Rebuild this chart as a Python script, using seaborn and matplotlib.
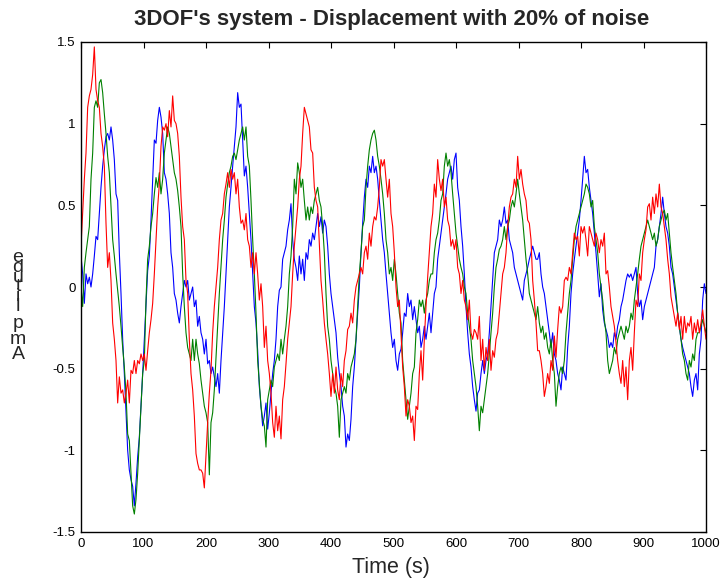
import numpy as np
import pandas as pd
import seaborn as sns
import matplotlib.pyplot as plt

# displacement of each DOF (one value every 8/3 s)
red_vals = [
    0.25, 0.45, 0.66, 0.82, 1.10, 1.17, 1.21, 1.30, 1.47, 1.21,
    1.14, 1.10, 0.94, 0.86, 0.74, 0.39, 0.12, 0.21, 0.04, -0.22,
    -0.32, -0.45, -0.71, -0.55, -0.65, -0.63, -0.71, -0.65, -0.57, -0.71,
    -0.51, -0.53, -0.45, -0.53, -0.45, -0.47, -0.41, -0.45, -0.41, -0.51,
    -0.39, -0.28, -0.20, -0.10, 0.08, 0.29, 0.49, 0.63, 0.86, 0.98,
    0.96, 1.00, 0.92, 1.08, 0.98, 1.17, 1.02, 1.00, 0.94, 0.80,
    0.55, 0.37, 0.29, 0.04, -0.04, -0.32, -0.53, -0.63, -0.79, -1.02,
    -1.08, -1.12, -1.12, -1.14, -1.23, -1.03, -0.83, -0.65, -0.51, -0.28,
    -0.12, 0.00, 0.12, 0.29, 0.41, 0.45, 0.57, 0.63, 0.70, 0.61,
    0.72, 0.66, 0.70, 0.57, 0.66, 0.49,
    0.39, 0.41, 0.35, 0.45, 0.29, 0.25, 0.12, 0.21, 0.08, 0.21,
    0.08, -0.08, 0.02, -0.12, -0.37, -0.24, -0.45, -0.53, -0.65, -0.83,
    -0.92, -0.73, -0.88, -0.79, -0.93, -0.69, -0.61, -0.47, -0.32, -0.22,
    -0.12, 0.08, 0.25, 0.37, 0.49, 0.66, 0.74, 0.94, 1.10, 1.06,
    1.02, 0.98, 0.84, 0.82, 0.61, 0.53, 0.49, 0.27, 0.04, -0.08,
    -0.22, -0.32, -0.41, -0.53, -0.67, -0.53, -0.65, -0.49, -0.63, -0.69,
    -0.53, -0.61, -0.45, -0.39, -0.26, -0.24, -0.16, -0.22, -0.08, 0.00,
    0.04, 0.08, 0.12, 0.08, 0.21, 0.25, 0.17, 0.33, 0.25, 0.37,
    0.43, 0.41, 0.49, 0.61, 0.78, 0.74, 0.78, 0.66, 0.55, 0.66,
    0.45, 0.37, 0.21, 0.00, -0.12, -0.08,
    -0.28, -0.49, -0.61, -0.79, -0.69, -0.73, -0.83, -0.79, -0.94, -0.73,
    -0.75, -0.53, -0.39, -0.57, -0.32, -0.12, 0.06, 0.21, 0.37, 0.45,
    0.63, 0.55, 0.78, 0.66, 0.59, 0.66, 0.49, 0.55, 0.41, 0.37,
    0.25, 0.29, 0.23, 0.29, 0.12, 0.08, -0.04, 0.04, -0.08, -0.12,
    -0.20, -0.08, -0.28, -0.32, -0.26, -0.28, -0.32, -0.18, -0.45, -0.32,
    -0.51, -0.37, -0.45, -0.32, -0.51, -0.39, -0.43, -0.32, -0.28, -0.16,
    -0.04, 0.08, 0.12, 0.21, 0.37, 0.49, 0.55, 0.57, 0.66, 0.61,
    0.80, 0.66, 0.72, 0.63, 0.57, 0.53, 0.41, 0.39, 0.29, 0.04,
    -0.08, -0.22, -0.39, -0.39, -0.45, -0.53, -0.67, -0.61, -0.53, -0.59,
    -0.45, -0.51, -0.30, -0.43, -0.26, -0.12, -0.16,
    -0.12, 0.04, 0.06, 0.04, 0.12, 0.08, 0.21, 0.33, 0.29, 0.31,
    0.19, 0.37, 0.33, 0.37, 0.29, 0.19, 0.37, 0.33, 0.29, 0.25,
    0.33, 0.29, 0.21, 0.29, 0.25, 0.33, 0.08, 0.10, 0.00, -0.12,
    -0.18, -0.24, -0.34, -0.45, -0.53, -0.59, -0.45, -0.61, -0.49, -0.69,
    -0.45, -0.37, -0.51, -0.28, -0.08, -0.12, 0.08, 0.04, 0.21, 0.29,
    0.35, 0.49, 0.51, 0.41, 0.55, 0.45, 0.57, 0.49, 0.63, 0.49,
    0.45, 0.37, 0.29, 0.17, 0.08, -0.06, -0.12, -0.18, -0.24, -0.16,
    -0.26, -0.18, -0.32, -0.18, -0.28, -0.22, -0.24, -0.18, -0.32, -0.22,
    -0.28, -0.20, -0.28, -0.22, -0.14, -0.24, -0.32,
]

blue_vals = [
    0.19, 0.08, -0.10, 0.08, 0.02, 0.06, 0.00, 0.08, 0.19, 0.31,
    0.29, 0.45, 0.61, 0.74, 0.84, 0.92, 0.94, 0.90, 0.98, 0.90,
    0.78, 0.57, 0.53, 0.21, -0.04, -0.32, -0.53, -0.77, -1.00, -1.12,
    -1.18, -1.22, -1.34, -1.20, -1.04, -0.92, -0.73, -0.53, -0.32, -0.12,
    0.10, 0.19, 0.41, 0.66, 0.90, 0.88, 1.02, 1.10, 1.04, 0.94,
    0.70, 0.66, 0.57, 0.45, 0.21, 0.12, -0.04, -0.08, -0.16, -0.22,
    -0.12, -0.04, 0.04, 0.00, 0.04, -0.08, -0.04, 0.00, -0.12, -0.08,
    -0.24, -0.18, -0.28, -0.32, -0.41, -0.32, -0.47, -0.45, -0.53, -0.49,
    -0.55, -0.61, -0.53, -0.65, -0.45, -0.28, -0.12, 0.08, 0.29, 0.49,
    0.61, 0.74, 0.86, 0.98, 1.19, 1.10,
    1.12, 0.90, 0.68, 0.74, 0.61, 0.45, 0.29, 0.08, -0.12, -0.22,
    -0.39, -0.61, -0.73, -0.85, -0.79, -0.71, -0.87, -0.77, -0.65, -0.53,
    -0.45, -0.32, -0.12, -0.02, 0.00, 0.17, 0.21, 0.25, 0.35, 0.41,
    0.51, 0.29, 0.17, 0.12, 0.04, 0.19, 0.08, 0.17, 0.04, 0.21,
    0.17, 0.29, 0.25, 0.33, 0.29, 0.37, 0.45, 0.37, 0.43, 0.33,
    0.41, 0.37, 0.25, 0.08, -0.04, -0.12, -0.20, -0.28, -0.43, -0.53,
    -0.61, -0.73, -0.79, -0.98, -0.90, -0.94, -0.81, -0.61, -0.49, -0.32,
    -0.16, 0.00, 0.21, 0.39, 0.55, 0.66, 0.61, 0.74, 0.70, 0.80,
    0.70, 0.74, 0.66, 0.53, 0.41, 0.29, 0.21, 0.08, -0.04, -0.16,
    -0.28, -0.37, -0.32, -0.45, -0.51, -0.41,
    -0.38, -0.28, -0.16, -0.18, -0.04, -0.12, -0.08, -0.20, -0.12, -0.20,
    -0.28, -0.24, -0.37, -0.32, -0.24, -0.32, -0.24, -0.16, -0.28, -0.16,
    -0.04, 0.00, 0.17, 0.25, 0.33, 0.41, 0.49, 0.57, 0.66, 0.70,
    0.74, 0.66, 0.78, 0.82, 0.61, 0.53, 0.37, 0.25, 0.08, -0.12,
    -0.28, -0.41, -0.49, -0.61, -0.69, -0.76, -0.65, -0.63, -0.53, -0.45,
    -0.53, -0.45, -0.41, -0.28, -0.12, 0.04, 0.21, 0.25, 0.29, 0.41,
    0.37, 0.41, 0.49, 0.39, 0.41, 0.29, 0.25, 0.21, 0.12, 0.08,
    0.04, 0.00, -0.04, -0.08, 0.04, 0.08, 0.12, 0.17, 0.21, 0.25,
    0.21, 0.17, 0.17, 0.21, 0.08, 0.00, -0.04, -0.12, -0.20, -0.28,
    -0.37, -0.28, -0.41, -0.45, -0.53, -0.57, -0.63,
    -0.49, -0.53, -0.57, -0.37, -0.24, -0.04, 0.08, 0.17, 0.25, 0.33,
    0.41, 0.53, 0.66, 0.80, 0.70, 0.72, 0.61, 0.53, 0.45, 0.33,
    0.21, 0.08, -0.06, 0.02, -0.14, -0.22, -0.26, -0.30, -0.37, -0.34,
    -0.37, -0.28, -0.32, -0.24, -0.20, -0.12, -0.08, -0.02, 0.04, 0.08,
    0.06, 0.08, 0.04, 0.08, 0.12, -0.04, -0.12, -0.08, -0.20, -0.12,
    -0.08, -0.04, 0.00, 0.04, 0.08, 0.12, 0.25, 0.29, 0.37, 0.45,
    0.55, 0.45, 0.37, 0.33, 0.25, 0.12, 0.08, 0.00, -0.08, -0.16,
    -0.24, -0.32, -0.37, -0.41, -0.45, -0.49, -0.53, -0.61, -0.67, -0.57,
    -0.53, -0.63, -0.41, -0.32, -0.08, 0.02, -0.04,
]

green_vals = [
    0.00, -0.12, 0.12, 0.21, 0.29, 0.37, 0.66, 0.82, 1.10, 1.14,
    1.10, 1.25, 1.27, 1.19, 1.06, 0.94, 0.80, 0.70, 0.49, 0.29,
    0.19, 0.08, -0.02, -0.12, -0.24, -0.37, -0.49, -0.65, -0.90, -0.94,
    -1.14, -1.34, -1.39, -1.30, -1.14, -0.94, -0.73, -0.53, -0.45, -0.08,
    0.17, 0.25, 0.37, 0.45, 0.57, 0.67, 0.61, 0.70, 0.57, 0.66,
    0.82, 0.90, 0.98, 0.94, 0.86, 0.78, 0.70, 0.66, 0.59, 0.49,
    0.37, 0.08, -0.12, -0.28, -0.37, -0.41, -0.45, -0.32, -0.45, -0.32,
    -0.41, -0.47, -0.57, -0.65, -0.73, -0.77, -0.83, -1.15, -0.83, -0.77,
    -0.63, -0.43, -0.22, -0.04, 0.12, 0.29, 0.41, 0.55, 0.63, 0.70,
    0.74, 0.80, 0.82, 0.78, 0.84, 0.90,
    0.94, 0.98, 0.90, 0.98, 0.80, 0.74, 0.53, 0.29, 0.08, -0.16,
    -0.45, -0.59, -0.73, -0.81, -0.85, -0.98, -0.69, -0.63, -0.57, -0.61,
    -0.49, -0.45, -0.41, -0.45, -0.32, -0.41, -0.32, -0.24, -0.12, 0.08,
    0.19, 0.37, 0.66, 0.57, 0.76, 0.70, 0.61, 0.66, 0.53, 0.41,
    0.49, 0.41, 0.49, 0.45, 0.53, 0.57, 0.61, 0.53, 0.49, 0.37,
    0.21, -0.04, -0.24, -0.32, -0.45, -0.53, -0.61, -0.65, -0.73, -0.92,
    -0.69, -0.65, -0.61, -0.65, -0.53, -0.57, -0.49, -0.45, -0.41, -0.32,
    -0.12, 0.08, 0.21, 0.37, 0.41, 0.61, 0.74, 0.84, 0.90, 0.94,
    0.96, 0.90, 0.80, 0.74, 0.66, 0.57, 0.45, 0.29, 0.21, 0.08,
    0.12, 0.04, 0.17, 0.08, -0.04, -0.16,
    -0.22, -0.45, -0.57, -0.69, -0.81, -0.73, -0.65, -0.53, -0.49, -0.28,
    -0.20, -0.08, -0.12, -0.08, -0.16, -0.08, -0.04, 0.04, 0.08, 0.08,
    0.21, 0.29, 0.33, 0.41, 0.53, 0.57, 0.74, 0.82, 0.74, 0.78,
    0.70, 0.57, 0.45, 0.33, 0.25, 0.17, 0.12, 0.08, 0.00, -0.04,
    -0.16, -0.24, -0.32, -0.45, -0.53, -0.61, -0.73, -0.88, -0.73, -0.77,
    -0.69, -0.61, -0.53, -0.41, -0.28, -0.16, 0.00, 0.12, 0.17, 0.23,
    0.25, 0.29, 0.37, 0.29, 0.37, 0.41, 0.49, 0.53, 0.49, 0.57,
    0.66, 0.57, 0.49, 0.41, 0.29, 0.17, 0.08, -0.04, -0.08, -0.12,
    -0.16, -0.20, -0.12, -0.22, -0.28, -0.24, -0.32, -0.28, -0.37, -0.41,
    -0.32, -0.45, -0.53, -0.73, -0.61, -0.53, -0.49,
    -0.53, -0.45, -0.28, -0.16, -0.04, 0.04, 0.17, 0.29, 0.37, 0.41,
    0.45, 0.49, 0.53, 0.57, 0.63, 0.61, 0.57, 0.49, 0.53, 0.37,
    0.29, 0.21, 0.08, 0.00, -0.08, -0.20, -0.28, -0.45, -0.53, -0.49,
    -0.45, -0.37, -0.41, -0.32, -0.28, -0.24, -0.28, -0.32, -0.24, -0.28,
    -0.24, -0.16, -0.20, -0.08, 0.00, 0.08, 0.17, 0.25, 0.29, 0.33,
    0.37, 0.41, 0.37, 0.33, 0.29, 0.33, 0.25, 0.29, 0.37, 0.41,
    0.45, 0.47, 0.41, 0.45, 0.33, 0.21, 0.12, 0.04, -0.04, -0.16,
    -0.24, -0.32, -0.41, -0.45, -0.53, -0.57, -0.45, -0.49, -0.41, -0.45,
    -0.32, -0.28, -0.28, -0.24, -0.20, -0.24, -0.28,
]

time_s = np.linspace(0, 1000, len(red_vals))
x_ticks = [0, 100, 200, 300, 400, 500, 600, 700, 800, 900, 1000]
y_ticks = [-1.5, -1, -0.5, 0, 0.5, 1, 1.5]
y_tick_labels = ["-1.5", "-1", "-0.5", "0", "0.5", "1", "1.5"]

df = pd.DataFrame({"Time": time_s, "blue": blue_vals,
                   "green": green_vals, "red": red_vals})
long_df = df.melt(id_vars="Time", var_name="dof", value_name="Amplitude")

sns.set_style("white")
plt.rcParams['font.family'] = ['Liberation Sans', 'DejaVu Sans']

fig = plt.figure(figsize=(7.21, 5.82), dpi=100)
ax = fig.add_axes([81 / 721, 50 / 582, 625 / 721, 490 / 582])

sns.lineplot(data=long_df, x="Time", y="Amplitude", hue="dof",
             hue_order=["blue", "green", "red"],
             palette={"blue": "#0000ff", "green": "#008000", "red": "#ff0000"},
             estimator=None, linewidth=0.8, legend=False, ax=ax)

ax.set_xlim(0, 1000)
ax.set_ylim(-1.5, 1.5)
ax.set_xticks(x_ticks)
ax.set_yticks(y_ticks)
ax.set_yticklabels(y_tick_labels)
ax.set_xlabel("")
ax.set_ylabel("")
ax.tick_params(direction="in", length=4, width=0.8, colors="black",
               labelsize=9.5, top=True, right=True, pad=4)
ax.tick_params(axis="x", labeltop=False)
ax.tick_params(axis="y", labelright=False)
for sp in ax.spines.values():
    sp.set_color("black")
    sp.set_linewidth(1.0)

fig.text(392 / 721, 1 - 19 / 582, "3DOF's system - Displacement with 20% of noise",
         ha="center", va="center", fontsize=16, fontweight="bold")
fig.text(391 / 721, 1 - 567 / 582, "Time (s)", ha="center", va="center", fontsize=15.5)

# MATLAB-style stacked y label: squeezed top part and the lower letters
fig.text(18 / 721, 1 - 282 / 582, "e\nd\nu\nt\ni\nl", ha="center", va="center",
         fontsize=14, linespacing=0.45)
fig.text(18 / 721, 1 - 339 / 582, "p\nm\nA", ha="center", va="center",
         fontsize=14, linespacing=0.9)

fig.savefig("out.png", dpi=100, facecolor="white")
